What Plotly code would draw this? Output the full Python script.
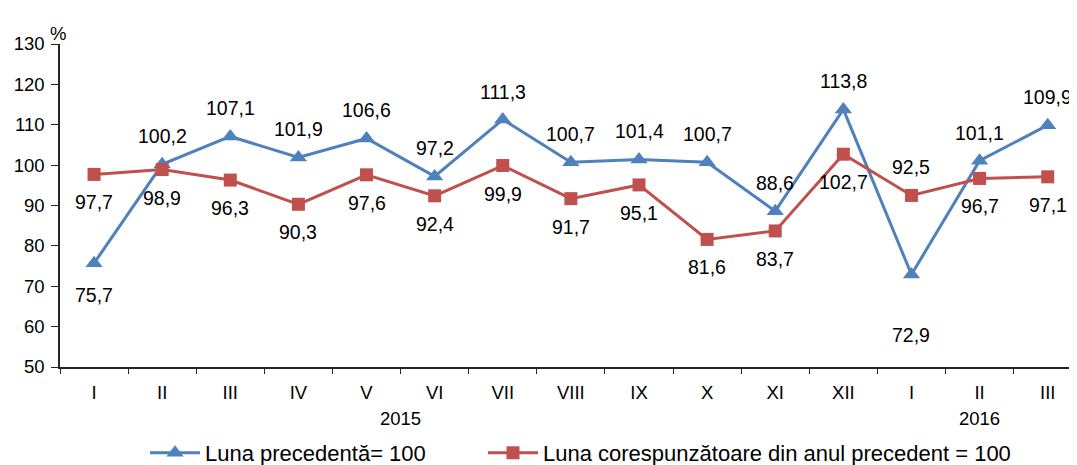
import plotly.graph_objects as go

months = ["I", "II", "III", "IV", "V", "VI", "VII", "VIII", "IX", "X", "XI", "XII", "I", "II", "III"]
prev_month = [75.7, 100.2, 107.1, 101.9, 106.6, 97.2, 111.3, 100.7, 101.4, 100.7, 88.6, 113.8, 72.9, 101.1, 109.9]
prev_year = [97.7, 98.9, 96.3, 90.3, 97.6, 92.4, 99.9, 91.7, 95.1, 81.6, 83.7, 102.7, 92.5, 96.7, 97.1]
years = ["2015", "2016"]

# label placement: 1 = above the point, -1 = below
prev_month_side = [-1, 1, 1, 1, 1, 1, 1, 1, 1, 1, 1, 1, -1, 1, 1]
prev_year_side = [-1, -1, -1, -1, -1, -1, -1, -1, -1, -1, -1, -1, 1, -1, -1]

BLUE = "#4F81BD"
RED = "#C0504D"
AXIS = "#262626"
FONT = "Liberation Sans, Arial, sans-serif"

# the page body adds an 8px margin, so the figure is a bit smaller than the window
W, H = 1069, 457

x = list(range(len(months)))

fig = go.Figure()
fig.add_trace(go.Scatter(
    x=x, y=prev_month, mode="lines+markers", name="Luna precedentă= 100",
    line=dict(color=BLUE, width=3),
    marker=dict(symbol="triangle-up", size=15, color=BLUE),
    legend="legend",
))
fig.add_trace(go.Scatter(
    x=x, y=prev_year, mode="lines+markers",
    name="Luna corespunzătoare din anul precedent = 100",
    line=dict(color=RED, width=3),
    marker=dict(symbol="square", size=13, color=RED),
    legend="legend2",
))

def fmt(v):
    return f"{v:.1f}".replace(".", ",")

for series, sides in ((prev_month, prev_month_side), (prev_year, prev_year_side)):
    for i, (v, s) in enumerate(zip(series, sides)):
        shift = 28 * s
        if s < 0 and v < 74:
            shift = -60
        elif s < 0 and v < 77:
            shift = -32
        fig.add_annotation(x=i, y=v, text=fmt(v), showarrow=False,
                           yshift=shift, font=dict(size=19.5, color="#000"))

fig.add_annotation(x=4.5, y=-0.197, xref="x", yref="paper", text=years[0],
                   showarrow=False, font=dict(size=18.5, color="#000"))
fig.add_annotation(x=13, y=-0.197, xref="x", yref="paper", text=years[1],
                   showarrow=False, font=dict(size=18.5, color="#000"))
fig.add_annotation(x=-0.002, y=1.07, xref="paper", yref="paper", text="%",
                   showarrow=False, xanchor="center", font=dict(size=18.5, color="#000"))

fig.update_xaxes(
    range=[-0.5, 14.43], tickvals=x, ticktext=months, automargin=False,
    showline=True, linecolor=AXIS, linewidth=1.5,
    showgrid=False, zeroline=False, ticks="", ticklabelstandoff=8,
    minor=dict(tick0=0.5, dtick=1, ticks="outside", ticklen=5,
               tickcolor=AXIS, showgrid=False),
    tickfont=dict(size=18.5, color="#000"),
)
fig.update_yaxes(
    range=[50, 130], dtick=10, automargin=False,
    showline=True, linecolor=AXIS, linewidth=1.5,
    showgrid=False, zeroline=False, ticks="outside", ticklen=7,
    ticklabelstandoff=3,
    tickcolor=AXIS, tickfont=dict(size=18.5, color="#000"),
)

legend_style = dict(orientation="h", xref="container", yref="container",
                    xanchor="left", y=12 / H, yanchor="middle",
                    font=dict(size=22), itemwidth=50, bgcolor="rgba(0,0,0,0)")

fig.update_layout(
    width=W, height=H,
    margin=dict(l=52, r=0, t=36, b=98),
    plot_bgcolor="white", paper_bgcolor="white",
    font=dict(family=FONT, size=18.5, color="#000"),
    showlegend=True,
    legend=dict(x=137 / W, **legend_style),
    legend2=dict(x=475 / W, **legend_style),
)

fig.write_html("out.html")
